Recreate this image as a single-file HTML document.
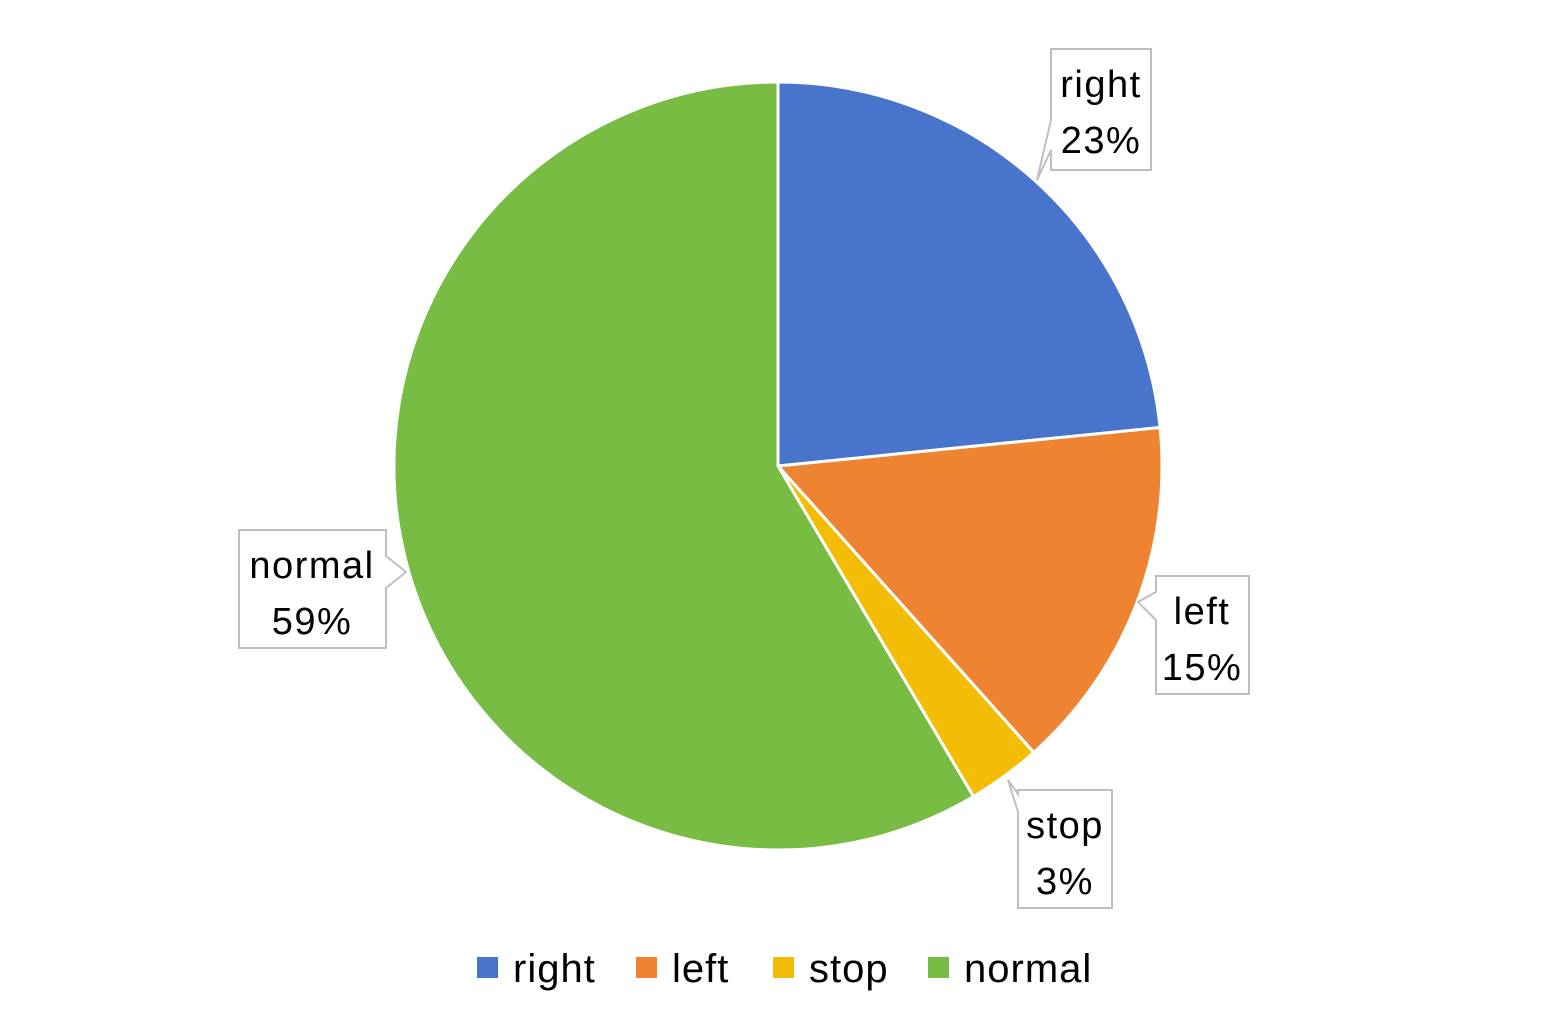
<!DOCTYPE html>
<html><head><meta charset="utf-8"><style>
html,body{margin:0;padding:0;background:#fff;}
svg{display:block;font-family:"Liberation Sans",sans-serif;}
</style></head><body>
<svg id="chart" width="1556" height="1014" viewBox="0 0 1556 1014">
<g id="slices"></g>
<g fill="#fff" stroke="#bfbfbf" stroke-width="2">
<path d="M1051,49 H1151 V170 H1051 V150 L1037,180 L1051,120 Z"/>
<path d="M1156,576 H1249 V694 H1156 V620 L1138,602 L1156,592 Z"/>
<path d="M1018,790 H1112 V908 H1018 V812 L1008,780 L1018,794 Z"/>
<path d="M239,530 H386 V556 L406,572 L386,588 V648 H239 Z"/>
</g>
<g id="labels" font-size="38" letter-spacing="1.5" fill="#000" text-anchor="middle"></g>
<g id="legend" font-size="40" letter-spacing="1" fill="#000"></g>
</svg>
<script>
const categories = ["right", "left", "stop", "normal"];
const values = [23.4, 15.0, 3.1, 58.5];
const labelText = ["23%", "15%", "3%", "59%"];
const colors = ["#4874cb", "#ee8431", "#f3bc05", "#78bc43"];
const ns = "http://www.w3.org/2000/svg";
const cx = 778, cy = 466, r = 384;
const total = values.reduce((a, b) => a + b, 0);
function pt(frac, rad) {
  const a = frac * 2 * Math.PI;
  return [cx + rad * Math.sin(a), cy - rad * Math.cos(a)];
}
const sg = document.getElementById('slices');
let cum = 0;
values.forEach((v, i) => {
  const s = cum / total, e = (cum + v) / total;
  cum += v;
  const p0 = pt(s, r), p1 = pt(e, r);
  const large = (e - s) > 0.5 ? 1 : 0;
  const p = document.createElementNS(ns, 'path');
  p.setAttribute('d', `M${cx},${cy} L${p0[0]},${p0[1]} A${r},${r} 0 ${large} 1 ${p1[0]},${p1[1]} Z`);
  p.setAttribute('fill', colors[i]);
  p.setAttribute('stroke', '#fff');
  p.setAttribute('stroke-width', '3');
  
  
  sg.appendChild(p);
});
const boxes = [[1101, 49], [1202, 576], [1065, 790], [312, 530]];
const lg = document.getElementById('labels');
categories.forEach((c, i) => {
  const t = document.createElementNS(ns, 'text');
  t.setAttribute('x', boxes[i][0]);
  t.setAttribute('y', boxes[i][1] + 48);
  t.textContent = c;
  
  
  lg.appendChild(t);
  const t2 = document.createElementNS(ns, 'text');
  t2.setAttribute('x', boxes[i][0]);
  t2.setAttribute('y', boxes[i][1] + 104);
  t2.textContent = labelText[i];
  
  
  lg.appendChild(t2);
});
const legX = [477, 636, 773, 928];
const leg = document.getElementById('legend');
categories.forEach((c, i) => {
  const g = document.createElementNS(ns, 'g');
  
  
  const rc = document.createElementNS(ns, 'rect');
  rc.setAttribute('x', legX[i]); rc.setAttribute('y', 957);
  rc.setAttribute('width', 21); rc.setAttribute('height', 21);
  rc.setAttribute('fill', colors[i]);
  
  
  const t = document.createElementNS(ns, 'text');
  t.setAttribute('x', legX[i] + 36); t.setAttribute('y', 982);
  t.textContent = c;
  
  
  g.appendChild(rc); g.appendChild(t);
  leg.appendChild(g);
});
</script>
</body></html>
